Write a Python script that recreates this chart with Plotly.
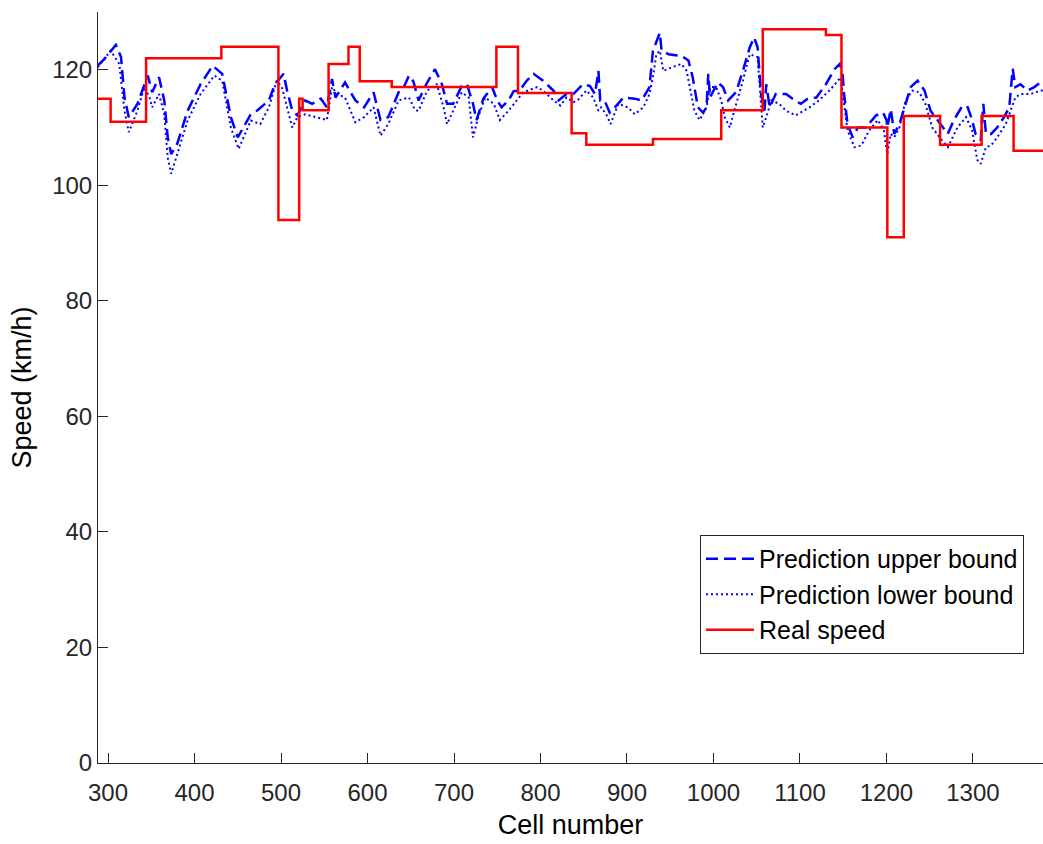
import plotly.graph_objects as go

# Real speed (step function): change points and values
real_x = [288, 303, 344, 431, 497, 521, 525, 555, 578, 591, 628, 749, 774, 836, 853,
          930, 1009, 1057, 1130, 1148, 1201, 1220, 1262, 1310, 1347, 1381]
real_y = [115, 111, 122, 124, 94, 115, 113, 121, 124, 118, 117, 124, 116, 109, 107,
          108, 113, 127, 126, 110, 91, 112, 107, 112, 106, 106]

upper_x = [288, 296, 309, 315, 319, 324, 334, 342, 346, 351, 359, 365, 369, 373, 380, 392, 407, 421, 432, 442,
           450, 465, 473, 486, 493, 503, 507, 513, 519, 528, 536, 546, 553, 559, 563, 574, 586, 596, 607, 615,
           624, 636, 642, 648, 653, 659, 669, 678, 686, 692, 699, 709, 715, 722, 726, 734, 744, 750, 755, 763,
           769, 776, 784, 792, 803, 815, 821, 830, 838, 849, 857, 863, 867, 869, 874, 880, 886, 896, 909, 917,
           926, 930, 934, 938, 940, 948, 963, 971, 976, 982, 988, 992, 994, 996, 1005, 1011, 1017, 1026, 1034, 1042,
           1047, 1051, 1055, 1059, 1061, 1065, 1072, 1084, 1094, 1101, 1109, 1119, 1130, 1140, 1146, 1149, 1151, 1155, 1161, 1167,
           1176, 1188, 1196, 1200, 1201, 1205, 1209, 1215, 1221, 1228, 1236, 1244, 1251, 1263, 1271, 1278, 1288, 1294, 1299, 1303,
           1309, 1312, 1315, 1321, 1328, 1336, 1342, 1346, 1349, 1355, 1363, 1371, 1378, 1381]
upper_y = [120.7, 121.9, 124.3, 122.2, 115.2, 111.8, 114.1, 117.5, 119.0, 116.1, 118.7, 114.7, 108.3, 105.4, 107.2, 112.9, 117.5, 120.7, 119.3, 111.8,
           108.3, 112.3, 113.0, 114.7, 117.5, 119.3, 116.4, 112.9, 112.1, 114.7, 114.1, 115.0, 113.5, 118.4, 115.2, 117.8, 114.7, 113.5, 116.1, 111.3,
           111.8, 116.1, 117.0, 119.0, 118.0, 114.7, 117.8, 120.1, 117.5, 114.1, 114.1, 117.2, 117.5, 114.1, 111.3, 115.0, 117.0, 114.7, 113.5, 114.7,
           116.3, 116.4, 118.1, 119.3, 118.1, 116.4, 114.7, 115.8, 115.8, 117.5, 117.2, 115.8, 119.8, 114.7, 114.7, 112.6, 113.5, 115.2, 115.0, 114.7,
           117.0, 123.3, 124.8, 126.4, 123.3, 122.7, 122.4, 121.6, 118.7, 113.5, 112.6, 113.5, 119.3, 115.2, 117.8, 117.0, 114.7, 116.1, 119.8, 123.9,
           125.6, 123.9, 115.8, 112.9, 117.5, 113.5, 115.8, 115.8, 114.7, 114.1, 115.0, 115.2, 117.5, 120.1, 121.0, 119.8, 115.8, 110.6, 108.3, 110.0,
           110.0, 112.1, 112.6, 111.3, 110.0, 113.2, 108.9, 110.6, 113.5, 117.0, 118.1, 116.4, 112.9, 110.6, 108.9, 111.3, 113.8, 113.5, 111.3, 108.9,
           107.8, 114.1, 108.9, 108.9, 110.0, 111.8, 113.5, 120.2, 117.0, 117.5, 116.4, 117.0, 117.8, 117.5]

lower_x = [288, 303, 313, 319, 324, 334, 342, 348, 351, 359, 365, 369, 373, 380, 392, 407, 423, 432, 442, 451,
           465, 476, 486, 495, 501, 507, 513, 519, 528, 540, 553, 559, 565, 574, 586, 596, 607, 615, 624, 636,
           648, 655, 659, 669, 680, 688, 692, 699, 709, 717, 722, 728, 736, 746, 753, 763, 772, 780, 796, 803,
           815, 823, 830, 838, 843, 853, 861, 867, 870, 876, 881, 890, 901, 909, 919, 926, 930, 934, 938, 942,
           951, 963, 969, 974, 978, 984, 992, 996, 1003, 1009, 1013, 1019, 1024, 1034, 1042, 1051, 1055, 1057, 1061, 1067,
           1076, 1084, 1095, 1101, 1111, 1122, 1134, 1144, 1147, 1151, 1155, 1163, 1171, 1180, 1190, 1197, 1201, 1205, 1209, 1215,
           1222, 1230, 1238, 1245, 1253, 1263, 1271, 1282, 1292, 1299, 1305, 1309, 1315, 1321, 1328, 1338, 1344, 1349, 1355, 1367,
           1378, 1381]
lower_y = [120.4, 123.3, 121.0, 112.9, 109.2, 112.9, 117.0, 115.2, 113.5, 115.8, 112.3, 104.8, 102.0, 105.4, 111.2, 115.8, 119.0, 118.1, 110.0, 106.3,
           111.2, 110.6, 113.5, 118.1, 117.0, 113.5, 110.0, 111.8, 112.3, 111.8, 111.3, 117.0, 115.8, 115.2, 110.9, 111.8, 113.5, 108.6, 110.6, 114.7,
           115.2, 113.0, 112.9, 116.4, 117.5, 113.5, 110.6, 112.9, 116.1, 115.2, 108.3, 111.8, 115.2, 114.1, 111.3, 112.9, 114.7, 116.1, 117.0, 116.4,
           114.7, 113.8, 115.2, 114.4, 114.7, 116.4, 115.2, 112.9, 113.5, 112.3, 110.6, 114.1, 113.5, 112.3, 113.5, 115.8, 118.7, 122.7, 123.3, 119.8,
           120.4, 121.0, 119.8, 115.8, 112.9, 111.3, 113.5, 117.0, 117.0, 114.7, 111.8, 110.0, 112.9, 118.1, 122.7, 122.2, 114.1, 110.0, 111.8, 114.7,
           114.1, 112.9, 112.1, 112.6, 113.5, 114.7, 116.4, 118.1, 118.7, 114.1, 109.5, 106.6, 106.9, 109.5, 111.3, 109.5, 105.4, 108.9, 108.3, 110.0,
           114.7, 116.4, 116.1, 114.1, 110.0, 108.0, 106.6, 110.0, 111.8, 109.5, 104.4, 103.7, 106.6, 106.9, 108.3, 110.6, 113.2, 115.2, 115.8, 115.8,
           116.4, 116.4]

x_ticks = [300, 400, 500, 600, 700, 800, 900, 1000, 1100, 1200, 1300]
y_ticks = [0, 20, 40, 60, 80, 100, 120]

FONT = "Liberation Sans"

fig = go.Figure()
fig.add_trace(go.Scatter(x=upper_x, y=upper_y, mode="lines", name="Prediction upper bound",
                         line=dict(color="#0000FF", width=2.5, dash="12px,6px")))
fig.add_trace(go.Scatter(x=lower_x, y=lower_y, mode="lines", name="Prediction lower bound",
                         line=dict(color="#0000FF", width=2, dash="2px,3px")))
fig.add_trace(go.Scatter(x=real_x, y=real_y, mode="lines", name="Real speed", line_shape="hv",
                         line=dict(color="#FF0000", width=2.5)))

fig.update_layout(
    width=1043, height=844,
    margin=dict(l=98, r=0, t=12, b=81),
    paper_bgcolor="white", plot_bgcolor="white",
    font=dict(family=FONT, size=24, color="#262626"),
    showlegend=True,
    legend=dict(x=0.637, y=0.3036, xanchor="left", yanchor="top",
                bgcolor="white", bordercolor="#262626", borderwidth=1,
                font=dict(family=FONT, size=25, color="black"),
                tracegroupgap=0, itemwidth=48),
)
fig.update_xaxes(range=[288.4, 1381], tickvals=x_ticks, ticks="inside", ticklen=10,
                 tickcolor="#262626", showline=True, linecolor="#262626", linewidth=1,
                 showgrid=False, zeroline=False, ticklabelstandoff=8,
                 title=dict(text="Cell number", font=dict(size=27, color="black"), standoff=10),
                 tickfont=dict(size=24, color="#262626"))
fig.update_yaxes(range=[0, 130], tickvals=y_ticks, ticks="inside", ticklen=10,
                 tickcolor="#262626", showline=True, linecolor="#262626", linewidth=1,
                 showgrid=False, zeroline=False,
                 title=dict(text="Speed (km/h)", font=dict(size=27, color="black"), standoff=12),
                 tickfont=dict(size=24, color="#262626"))

fig.write_html("out.html")
